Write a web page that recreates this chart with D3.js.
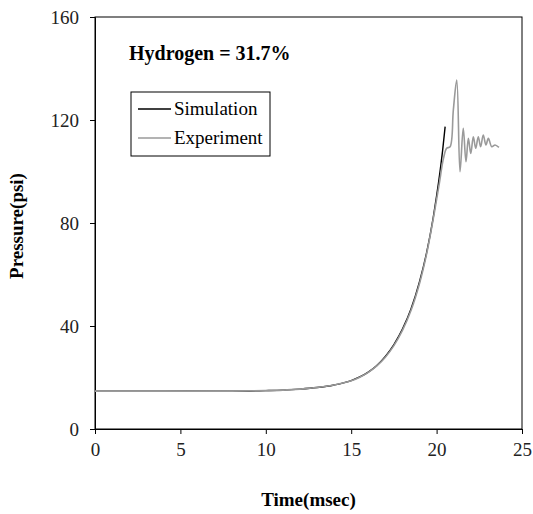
<!DOCTYPE html>
<html>
<head>
<meta charset="utf-8">
<script src="https://cdn.jsdelivr.net/npm/d3@7"></script>
<style>
  body { margin: 0; background: #fff; }
  svg { display: block; }
  text { font-family: "Liberation Serif", "Times New Roman", serif; fill: #000; }
</style>
</head>
<body>
<svg id="chart" width="533" height="514"></svg>
<script>
// time (msec) and pressure (psi)
const simTime = [0, 4, 8, 10, 11, 12, 13, 14, 15, 15.5, 16, 16.5, 17, 17.5, 18, 18.5, 19, 19.4, 19.8, 20.0, 20.2, 20.35, 20.5];
const simPressure = [14.7, 14.7, 14.7, 14.9, 15.1, 15.5, 16.1, 17.1, 18.8, 20.2, 22.1, 24.7, 28.2, 32.8, 38.8, 46.6, 57.2, 68.0, 82.0, 90.5, 100.0, 108.0, 117.4];

const expTime = [0, 4, 8, 10, 11, 12, 13, 14, 15, 15.5, 16, 16.5, 17, 17.5, 18, 18.5, 19, 19.4, 19.8, 20.15, 20.4, 20.59, 20.79, 20.98, 21.18, 21.37, 21.56, 21.72, 21.86, 22.0, 22.15, 22.29, 22.44, 22.58, 22.73, 22.89, 23.03, 23.23, 23.42, 23.65];
const expPressure = [14.7, 14.7, 14.7, 14.9, 15.1, 15.5, 16.1, 17.1, 18.7, 20.1, 22.0, 24.5, 27.9, 32.4, 38.3, 46.0, 56.5, 67.5, 81.5, 95.0, 105, 109, 109.6, 123.9, 135.5, 99.9, 116.8, 103.8, 112.9, 107, 113.5, 109, 113.5, 109.6, 114.2, 110.3, 112.9, 109.6, 110.3, 109.4];

const xTicks = [0, 5, 10, 15, 20, 25];
const yTicks = [0, 40, 80, 120, 160];

const svg = d3.select("#chart");
const margin = { left: 95, right: 11, top: 17, bottom: 85 };
const width = 533 - margin.left - margin.right;
const height = 514 - margin.top - margin.bottom;

const x = d3.scaleLinear().domain([0, 25]).range([0, width]);
const y = d3.scaleLinear().domain([0, 160]).range([height, 0]);

const g = svg.append("g").attr("transform", `translate(${margin.left},${margin.top})`);

// plot frame
g.append("rect")
  .attr("width", width)
  .attr("height", height)
  .attr("fill", "none")
  .attr("stroke", "#000")
  .attr("stroke-width", 1);

const xAxis = g.append("g")
  .attr("transform", `translate(0,${height})`)
  .call(d3.axisBottom(x).tickValues(xTicks).tickSize(5).tickPadding(9));
const yAxis = g.append("g")
  .call(d3.axisLeft(y).tickValues(yTicks).tickSize(5).tickPadding(11));

[xAxis, yAxis].forEach(a => {
  a.selectAll("text").style("font-size", "19px").attr("font-family", null).style("fill", "#222");
  a.select(".domain").attr("stroke", "#000");
});

const line = d3.line()
  .x(d => x(d[0]))
  .y(d => y(d[1]));

g.append("path")
  .datum(simTime.map((t, i) => [t, simPressure[i]]))
  .attr("d", line.curve(d3.curveMonotoneX))
  .attr("fill", "none")
  .attr("stroke", "#000")
  .attr("stroke-width", 1.4);

g.append("path")
  .datum(expTime.map((t, i) => [t, expPressure[i]]))
  .attr("d", line.curve(d3.curveCatmullRom.alpha(0.5)))
  .attr("fill", "none")
  .attr("stroke", "#9a9a9a")
  .attr("stroke-width", 1.6);

g.append("text")
  .attr("x", 34)
  .attr("y", 43)
  .text("Hydrogen = 31.7%")
  .style("font-size", "20px")
  .style("font-weight", "bold");

// legend
const legend = g.append("g").attr("transform", "translate(36,75)");
legend.append("rect")
  .attr("width", 139)
  .attr("height", 64)
  .attr("fill", "#fff")
  .attr("stroke", "#000");

const legendItems = [
  { name: "Simulation", color: "#000" },
  { name: "Experiment", color: "#9a9a9a" }
];
legendItems.forEach((d, i) => {
  const ly = 17 + i * 29;
  legend.append("line")
    .attr("x1", 7).attr("x2", 40)
    .attr("y1", ly).attr("y2", ly)
    .attr("stroke", d.color)
    .attr("stroke-width", 1.3);
  legend.append("text")
    .attr("x", 43)
    .attr("y", ly + 6)
    .text(d.name)
    .style("font-size", "19px");
});

// axis titles
svg.append("text")
  .attr("x", margin.left + width / 2)
  .attr("y", 506)
  .attr("text-anchor", "middle")
  .text("Time(msec)")
  .style("font-size", "19px")
  .style("font-weight", "bold");

svg.append("text")
  .attr("transform", "translate(23,226) rotate(-90)")
  .attr("text-anchor", "middle")
  .text("Pressure(psi)")
  .style("font-size", "19px")
  .style("font-weight", "bold");
</script>
</body>
</html>
